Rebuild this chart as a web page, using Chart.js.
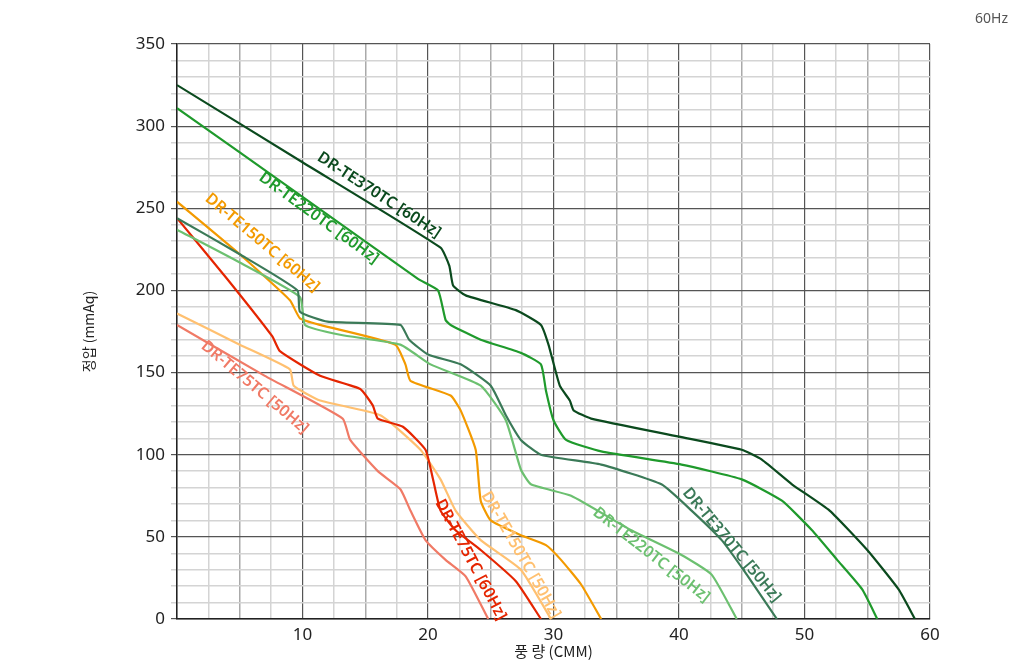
<!DOCTYPE html>
<html>
<head>
<meta charset="utf-8">
<script src="https://cdn.jsdelivr.net/npm/chart.js@4"></script>
<style>
  body { margin: 0; background: #fff; }
  #wrap { position: relative; width: 1024px; height: 660px; }
  #hz { position: absolute; right: 16px; top: 8px; font: 14px "Noto Sans", sans-serif; color: #555; }
</style>
</head>
<body>
<div id="wrap">
  <canvas id="c" width="1024" height="660"></canvas>
  <div id="hz">60Hz</div>
</div>
<script>
// [flow CMM, pressure mmAq]
const te370_60 = [[0,325],[10,278],[21,226],[21.7,215],[22,203],[23,197],[27,188],[29,179],[29.6,167],[30.5,142],[31.3,133],[31.6,127],[33,122],[40,111],[45,103],[46.6,97],[49,82],[52,66],[55,42],[57.5,18],[58.8,0]];
const te220_60 = [[0,311],[10,257],[19.2,207],[20.8,200],[21.4,182],[21.8,179],[24.2,170],[27.4,162],[29,155],[29.4,139],[30,121],[31,109],[33.8,102],[40.2,94],[45,85],[48.2,72],[50.6,54],[52.6,36],[54.6,18],[55.8,0]];
const te370_50 = [[0,244],[5,222],[9.6,200],[9.8,187],[12,181],[17.8,179],[18.5,170],[20,161],[22.6,155],[25,142],[26.2,124],[27.4,109],[29,100],[33.8,94],[38.6,82],[41,66],[43.4,48],[45.4,27],[47.8,0]];
const te220_50 = [[0,237],[5,217],[9.8,196],[10.2,179],[13,173],[17.8,167],[20.2,155],[24.2,142],[26.2,121],[27.4,91],[28.2,82],[31.4,75],[36.2,54],[40.2,39],[42.6,27],[44.6,0]];
const te150_60 = [[0,254],[5,222],[9,194],[9.8,183],[11.4,179],[17.4,167],[18.2,155],[18.6,145],[21.8,136],[22.6,127],[23.8,103],[24.2,72],[25,60],[27.4,51],[29.4,45],[30.6,36],[32.2,21],[33.8,0]];
const te75_60 = [[0,244],[4,207],[7.6,172],[8.2,163],[11.4,148],[14.6,140],[15.6,130],[16,122],[18,117],[19.8,103],[20.4,85],[21,66],[22.2,54],[24.2,42],[27,23],[29,0]];
const te150_50 = [[0,186],[5,167],[9,152],[9.3,142],[11.4,133],[16.2,124],[19.4,103],[21,85],[22.2,66],[24.2,48],[27.4,30],[29.8,0]];
const te75_50 = [[0,179],[7,148],[13.2,122],[13.8,109],[16,90],[17.8,79],[18.6,66],[19.8,48],[21.4,36],[23,26],[24.8,0]];

const xTicks = [10, 20, 30, 40, 50, 60];
const yTicks = [0, 50, 100, 150, 200, 250, 300, 350];

// label: text, anchor [x, y] in data units, angle in degrees, colour
const curveLabels = [
  ['DR-TE370TC [60Hz]', [16.1, 258], 33, '#0b4a1e'],
  ['DR-TE220TC [60Hz]', [11.3, 244], 36, '#1f9a2c'],
  ['DR-TE150TC [60Hz]', [6.8, 229], 40, '#f39a00'],
  ['DR-TE75TC [50Hz]', [6.2, 141], 40, '#f07a66'],
  ['DR-TE75TC [60Hz]', [23.4, 36], 62, '#e52500'],
  ['DR-TE150TC [50Hz]', [27.4, 39], 60, '#ffc070'],
  ['DR-TE220TC [50Hz]', [37.8, 39], 38, '#6cc070'],
  ['DR-TE370TC [50Hz]', [44.2, 45], 50, '#3b7a58']
];

const series = [
  [te370_60, '#0b4a1e'], [te220_60, '#1f9a2c'], [te370_50, '#3b7a58'], [te220_50, '#6cc070'],
  [te150_60, '#f39a00'], [te75_60, '#e52500'], [te150_50, '#ffc070'], [te75_50, '#f07a66']
];

const labelPlugin = {
  id: 'curveLabels',
  afterDatasetsDraw(chart) {
    const { ctx, scales: { x, y } } = chart;
    ctx.save();
    ctx.font = '600 16px "Noto Sans", sans-serif';
    ctx.textAlign = 'center';
    ctx.textBaseline = 'middle';
    curveLabels.forEach(([text, [dx, dy], ang, col]) => {
      ctx.save();
      ctx.translate(x.getPixelForValue(dx), y.getPixelForValue(dy));
      ctx.rotate(ang * Math.PI / 180);
      ctx.fillStyle = col;
      ctx.fillText(text, 0, 0);
      ctx.restore();
    });
    ctx.restore();
  }
};

new Chart(document.getElementById('c'), {
  type: 'scatter',
  data: {
    datasets: series.map(([pts, col]) => ({
      data: pts.map(([a, b]) => ({ x: a, y: b })),
      borderColor: col,
      backgroundColor: col,
      showLine: true,
      borderWidth: 2.2,
      pointRadius: 0,
      tension: 0.15
    }))
  },
  options: {
    responsive: false,
    animation: false,
    layout: { padding: { top: 44, right: 94, left: 80, bottom: 0 } },
    plugins: { legend: { display: false }, tooltip: { enabled: false } },
    scales: {
      x: {
        type: 'linear', min: 0, max: 60,
        afterBuildTicks: s => { s.ticks = []; for (let v = 0; v <= 60; v += 2.5) s.ticks.push({ value: v }); },
        afterFit: s => { s.height = 41; },
        border: { color: '#222', width: 1.5 },
        grid: {
          color: c => c.tick.value % 10 === 0 ? '#555' : (c.tick.value % 5 === 0 ? '#aaa' : '#d4d4d4'),
          lineWidth: c => c.tick.value % 10 === 0 ? 1.2 : 1.5,
          drawTicks: false
        },
        ticks: {
          autoSkip: false,
          maxRotation: 0,
          padding: 6,
          color: '#222',
          font: { size: 17, family: '"Noto Sans", sans-serif' },
          callback: v => xTicks.includes(v) ? String(v) : ''
        },
        title: { display: true, text: '풍 량 (CMM)', color: '#222', font: { size: 15, family: '"Noto Sans CJK KR", sans-serif' }, padding: 0 }
      },
      y: {
        min: 0, max: 350,
        afterBuildTicks: s => { s.ticks = []; for (let v = 0; v <= 350; v += 10) s.ticks.push({ value: v }); },
        afterFit: s => { s.width = 97; },
        border: { color: '#222', width: 1.5 },
        grid: {
          color: c => c.tick.value % 50 === 0 ? '#555' : '#d4d4d4',
          lineWidth: c => c.tick.value % 50 === 0 ? 1.2 : 1.5,
          drawTicks: true, tickLength: 6
        },
        ticks: {
          autoSkip: false,
          padding: 6,
          color: '#222',
          font: { size: 17, family: '"Noto Sans", sans-serif' },
          callback: v => yTicks.includes(v) ? String(v) : ''
        },
        title: { display: true, text: '정압 (mmAq)', color: '#222', font: { size: 14, family: '"Noto Sans CJK KR", sans-serif' }, padding: 0 }
      }
    }
  },
  plugins: [labelPlugin]
});
</script>
</body>
</html>
